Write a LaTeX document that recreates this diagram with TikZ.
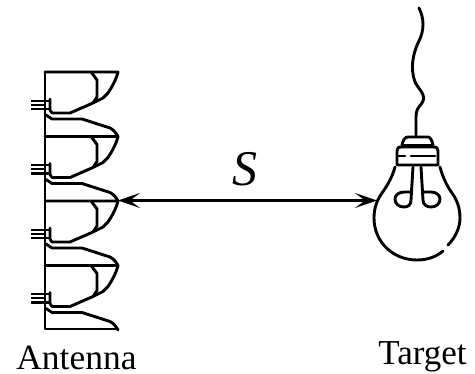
\documentclass[tikz,border=0pt]{standalone}
\usepackage{fontspec}
\setmainfont{Liberation Serif}
\usetikzlibrary{arrows.meta}
\tikzset{
  ink/.style={line width=2.9pt,line join=round,line cap=round,black},
  thin ink/.style={line width=2.3pt,line join=round,line cap=butt,black},
  label text/.style={anchor=base,inner sep=0pt},
  span/.style={line width=2.6pt,black,{Stealth[length=22pt,width=15pt,inset=10pt]}-{Stealth[length=22pt,width=15pt,inset=10pt]}},
}
\begin{document}
\begin{tikzpicture}[x=1pt,y=-1pt]
\useasboundingbox (0,0) rectangle (475,374);
% spine
\draw[ink] (45,72) -- (45,329) -- (118,329);
% antenna modules
\foreach \d in {0,64.5,129,193.5}{
  \begin{scope}[yshift=-\d pt]
    \draw[ink] (45,72) -- (118,72) .. controls (116,80) and (112,87) .. (108,93)
      -- (103,98) -- (93,103) -- (70,113) -- (52,113) -- (50,110) -- (50,99);
    \draw[ink] (91,72) -- (97,80) -- (97,97) -- (93,103);
    \draw[thin ink] (31,100.7) -- (50,100.7);
    \draw[thin ink] (31,104.7) -- (45,104.7);
    \draw[thin ink] (31,109) -- (50,109);
    \draw[ink] (46,115) -- (52,119) -- (82,119) -- (110,128) .. controls (114,130) and (116,133) .. (118,136.5);
  \end{scope}
}
% bulb
\coordinate (wireA) at (416,137);
\draw[ink] (419,8) .. controls (424,18) and (425,30) .. (418,43)
  .. controls (413,54) and (410,68) .. (415,82)
  .. controls (419,90) and (427,95) .. (422,103)
  .. controls (418,108) and (416,110) .. (416,117) -- (wireA);
\draw[ink] (402,145) .. controls (403,140) and (405,137) .. (408,137) -- (428,137)
  .. controls (430,137) and (432,140) .. (433,145);
\draw[ink] (402,145) -- (433,145);
\draw[ink] (397,165) -- (397,151) .. controls (397,148) and (398,147) .. (402,147) -- (433,147)
  .. controls (437,147) and (438,148) .. (438,151) -- (438,165) -- cycle;
\draw[ink] (397,156) -- (405,156) (411,156) -- (435,156);
\draw[ink] (395,167) .. controls (392,178) and (387,186) .. (382,193)
  .. controls (377,200) and (374,208) .. (374,218)
  .. controls (374,242) and (393,260) .. (417,260)
  .. controls (427,260) and (436,257) .. (443,251);
\draw[ink] (440,167) .. controls (443,178) and (447,186) .. (452,193)
  .. controls (457,200) and (460,208) .. (460,218)
  .. controls (460,228) and (455,238) .. (448,245);
\draw[ink] (413,167) -- (411,200) .. controls (411,205) and (408,207) .. (404,207)
  .. controls (399,207) and (395,204) .. (395,199) .. controls (395,195) and (399,192) .. (404,192) -- (411,192);
\draw[ink] (421,167) -- (423,200) .. controls (423,205) and (427,207) .. (431,207)
  .. controls (436,207) and (440,204) .. (440,199) .. controls (440,195) and (436,192) .. (431,192) -- (424,192);
% nodes
\coordinate (ant) at (118,200.5);
\coordinate (bulb) at (377,200.5);
\draw[span] (ant) -- (bulb);
\node[label text,font=\fontsize{50}{52}\selectfont\itshape] (s) at (245,186) {S};
\node[label text,font=\fontsize{35.5}{38}\selectfont] (antenna) at (76.5,370) {Antenna};
\node[label text,font=\fontsize{35}{38}\selectfont] (target) at (422.5,365) {Target};
\end{tikzpicture}
\end{document}
